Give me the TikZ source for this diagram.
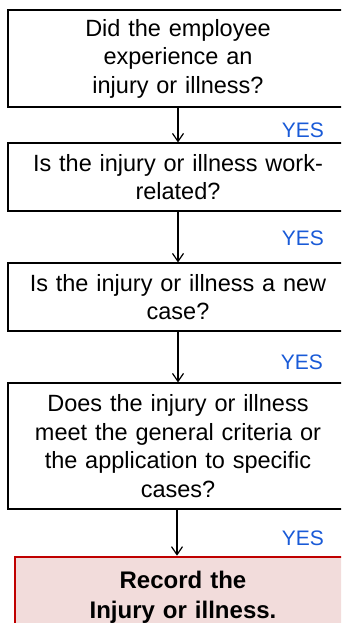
\documentclass[tikz,border=0pt]{standalone}
\usepackage{fontspec}
\setmainfont{Liberation Sans}
\usetikzlibrary{arrows.meta}
\definecolor{yesblue}{RGB}{25,90,215}
\definecolor{recred}{RGB}{192,0,0}
\definecolor{recfill}{RGB}{242,220,219}
\tikzset{
  qbox/.style={draw=black, line width=1.1pt, fill=white, minimum width=340pt, inner sep=0pt,
    text width=330pt, align=center, font=\fontsize{23.5}{28.5}\selectfont},
  recbox/.style={draw=recred, line width=2.6pt, fill=recfill, minimum width=336pt, inner sep=0pt,
    text width=330pt, align=center, font=\fontsize{24}{30}\selectfont\bfseries},
  arr/.style={-{Straight Barb[length=8pt,width=11pt]}, line width=1.2pt},
  yes/.style={text=yesblue, font=\fontsize{21}{24}\selectfont, anchor=east, inner sep=0pt}
}
\begin{document}
\begin{tikzpicture}[x=1pt,y=1pt]
\useasboundingbox (0,0) rectangle (341,-623);
\clip (0,0) rectangle (341,-623);
\node[qbox, minimum height=97pt] (b1) at (178,-58.5) {Did the employee\\experience an\\injury or illness?};
\node[qbox, minimum height=68pt] (b2) at (178,-177) {Is the injury or illness work-\\related?};
\node[qbox, minimum height=68pt] (b3) at (178,-297) {Is the injury or illness a new\\case?};
\node[qbox, minimum height=126pt] (b4) at (178,-446) {Does the injury or illness\\meet the general criteria or\\the application to specific\\cases?};
\node[recbox, minimum height=80pt] (b5) at (183,-597) {Record the\\Injury or illness.};
\draw[arr] (b1.south) -- (b2.north);
\draw[arr] (b2.south) -- (b3.north);
\draw[arr] (b3.south) -- (b4.north);
\draw[arr] ([xshift=-1pt]b4.south) -- ([xshift=-1pt]b4.south |- b5.north);
\node[yes] (y1) at (324,-130) {YES};
\node[yes] (y2) at (324,-238) {YES};
\node[yes] (y3) at (323,-362) {YES};
\node[yes] (y4) at (324,-538) {YES};
\end{tikzpicture}
\end{document}
